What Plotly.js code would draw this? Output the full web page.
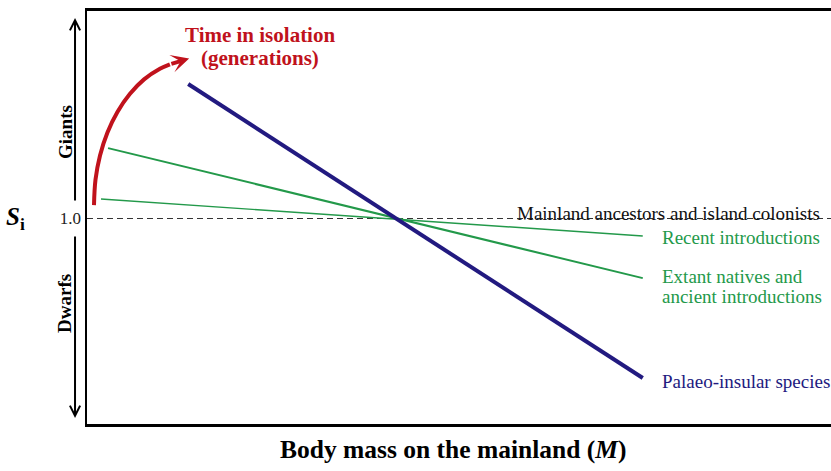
<!DOCTYPE html>
<html>
<head>
<meta charset="utf-8">
<script src="https://cdn.plot.ly/plotly-3.0.1.min.js"></script>
<style>html,body{margin:0;padding:0;background:#fff;}#chart{width:831px;height:471px;}</style>
</head>
<body>
<div id="chart"></div>
<script>
// Conceptual units: x = body mass on the mainland (0-10), y = S_i
const palaeoX = [1.36, 7.47];
const palaeoY = [1.661, 0.216];
const extantX = [0.283, 7.47];
const extantY = [1.346, 0.707];
const recentX = [0.188, 7.47];
const recentY = [1.096, 0.914];
const baselineX = [0, 10];
const baselineY = [1.0, 1.0];
const isolationX = [0.094, 0.114, 0.175, 0.275, 0.409, 0.575, 0.767, 0.980, 1.114];
const isolationY = [1.066, 1.190, 1.310, 1.423, 1.524, 1.612, 1.684, 1.736, 1.758];
const isolationTip = [1.373, 1.786];
const yTickVals = [1.0];
const yTickText = ['1.0'];

const serif = 'Liberation Serif, Times New Roman, serif';
const RED = '#c0121c', GREEN = '#23994a', NAVY = '#221a80';

const traces = [
  {x: baselineX, y: baselineY, mode: 'lines', line: {color: '#333', width: 1.2, dash: '6px,4px'}, hoverinfo: 'skip'},
  {x: recentX, y: recentY, mode: 'lines', line: {color: GREEN, width: 1.4}, hoverinfo: 'skip'},
  {x: extantX, y: extantY, mode: 'lines', line: {color: GREEN, width: 2}, hoverinfo: 'skip'},
  {x: palaeoX, y: palaeoY, mode: 'lines', line: {color: NAVY, width: 4}, hoverinfo: 'skip'},
  {x: isolationX, y: isolationY, mode: 'lines', line: {color: RED, width: 4, shape: 'spline', smoothing: 1}, hoverinfo: 'skip'}
];

const lab = (txt, x, y, color, size, extra) => Object.assign({
  text: txt, x: x, y: y, xref: 'x', yref: 'y', showarrow: false, borderpad: 0,
  xanchor: 'left', yanchor: 'middle', font: {family: serif, size: size, color: color}
}, extra || {});

const n = isolationX.length - 1;
const annotations = [
  lab('Mainland ancestors and island colonists', 5.76, 1.027, '#111', 19),
  lab('Recent introductions', 7.712, 0.909, GREEN, 19),
  lab('Extant natives and', 7.712, 0.714, GREEN, 19),
  lab('ancient introductions', 7.712, 0.617, GREEN, 19),
  lab('Palaeo-insular species', 7.712, 0.201, NAVY, 19),
  lab('<b>Time in isolation</b>', 2.33, 1.902, RED, 21, {xanchor: 'center'}),
  lab('<b>(generations)</b>', 2.33, 1.788, RED, 21, {xanchor: 'center'}),
  lab('<b>Body mass on the mainland (<i>M</i>)</b>', 0.4926, -0.062, '#000', 25.5,
      {xref: 'paper', yref: 'paper', xanchor: 'center'}),
  // red arrow head
  {x: isolationTip[0], y: isolationTip[1], ax: isolationX[n], ay: isolationY[n], xref: 'x', yref: 'y', axref: 'x', ayref: 'y',
   text: '', showarrow: true, arrowhead: 3, arrowsize: 0.75, arrowwidth: 4, arrowcolor: RED, standoff: 0},
  // Giants / Dwarfs arrows
  {x: -0.0161, y: 0.983, xref: 'paper', yref: 'paper', ax: 0, ay: 184, text: '', showarrow: true,
   arrowhead: 5, arrowsize: 1, arrowwidth: 2, arrowcolor: '#000'},
  {x: -0.0161, y: 0.0145, xref: 'paper', yref: 'paper', ax: 0, ay: -183, text: '', showarrow: true,
   arrowhead: 5, arrowsize: 1, arrowwidth: 2, arrowcolor: '#000'},
  {x: -0.0296, y: 0.707, xref: 'paper', yref: 'paper', text: '<b>Giants</b>', textangle: -90, showarrow: false,
   font: {family: serif, size: 19, color: '#000'}, xanchor: 'center', yanchor: 'middle'},
  {x: -0.0296, y: 0.293, xref: 'paper', yref: 'paper', text: '<b>Dwarfs</b>', textangle: -90, showarrow: false,
   font: {family: serif, size: 19, color: '#000'}, xanchor: 'center', yanchor: 'middle'},
  {x: -0.112, y: 1.0, xref: 'paper', yref: 'y', text: '<b><i>S</i><sub>i</sub></b>', showarrow: false,
   font: {family: serif, size: 25, color: '#000'}, xanchor: 'left', yanchor: 'middle'}
];

const layout = {
  width: 831, height: 471,
  margin: {l: 87, r: 0, t: 11, b: 47},
  paper_bgcolor: '#fff', plot_bgcolor: '#fff',
  showlegend: false,
  xaxis: {range: [0, 10], showline: true, mirror: true, linewidth: 3, linecolor: '#000',
    showgrid: false, zeroline: false, showticklabels: false, ticks: '', automargin: false},
  yaxis: {range: [-0.01, 2.02], showline: true, linewidth: 2.5, linecolor: '#000',
    showgrid: false, zeroline: false, ticks: '', automargin: false,
    tickvals: yTickVals, ticktext: yTickText, tickfont: {family: serif, size: 17, color: '#222'}},
  annotations: annotations
};

Plotly.newPlot('chart', traces, layout, {displayModeBar: false, staticPlot: true});
</script>
</body>
</html>
